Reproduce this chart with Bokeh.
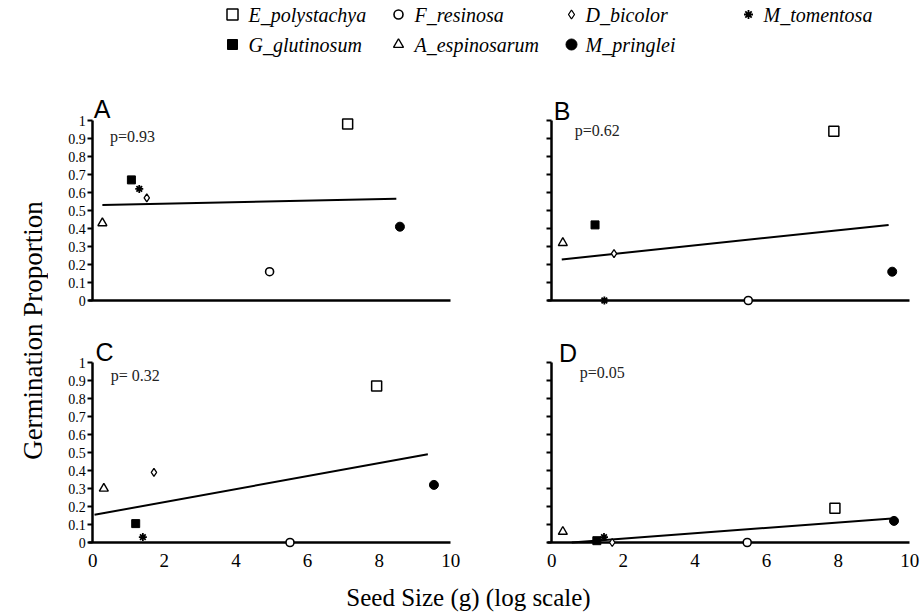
import math
from bokeh.plotting import figure
from bokeh.layouts import row, column
from bokeh.models import Range1d, FixedTicker, CustomJSTickFormatter, Label, ColumnDataSource
from bokeh.core.properties import value
from bokeh.embed import file_html
from bokeh.resources import INLINE

# ---------------- data ----------------
species = ["E_polystachya", "F_resinosa", "D_bicolor", "M_tomentosa",
           "G_glutinosum", "A_espinosarum", "M_pringlei"]

seed_A = [7.12, 4.94, 1.51, 1.30, 1.08, 0.27, 8.58]
germ_A = [0.98, 0.16, 0.57, 0.62, 0.67, 0.43, 0.41]
fit_seed_A = [0.27, 8.48]
fit_germ_A = [0.53, 0.565]

seed_B = [7.88, 5.49, 1.74, 1.47, 1.21, 0.31, 9.51]
germ_B = [0.94, 0.00, 0.26, 0.00, 0.42, 0.32, 0.16]
fit_seed_B = [0.28, 9.41]
fit_germ_B = [0.228, 0.42]

seed_C = [7.93, 5.51, 1.71, 1.40, 1.20, 0.31, 9.53]
germ_C = [0.87, 0.00, 0.39, 0.03, 0.105, 0.30, 0.32]
fit_seed_C = [0.05, 9.36]
fit_germ_C = [0.154, 0.49]

seed_D = [7.91, 5.46, 1.69, 1.46, 1.26, 0.31, 9.56]
germ_D = [0.19, 0.00, 0.00, 0.03, 0.01, 0.06, 0.12]
fit_seed_D = [0.56, 9.50]
fit_germ_D = [0.00, 0.134]

panel_letters = ["A", "B", "C", "D"]
p_values = ["p=0.93", "p=0.62", "p= 0.32", "p=0.05"]
y_ticks = [0, 0.1, 0.2, 0.3, 0.4, 0.5, 0.6, 0.7, 0.8, 0.9, 1]
x_ticks = [0, 2, 4, 6, 8, 10]
x_title = "Seed Size (g) (log scale)"
y_title = "Germination Proportion"

# ---------------- styles ----------------
marker_kind = ["square", "circle", "diamond", "asterisk", "square", "triangle", "circle"]
marker_size = [10, 8, 8, 8, 8, 9, 9]
marker_fill = ["white", "white", "white", "black", "black", "white", "black"]
marker_lw = [1.5, 1.6, 1.3, 1.8, 1.0, 1.4, 1.0]
legend_size = [11, 9, 9, 9, 10, 10, 11]

SERIF = "Liberation Serif"
SANS = "Liberation Sans"

X_LO, X_HI = -0.9, 10.3
FRAME_W = 401          # 35.8 px per unit
Y_HI = 1.2
PX_PER_Y = 180


def panel(seed, germ, fseed, fgerm, letter, ptext, letter_pos, p_pos,
          show_x, show_y, y_lo, mbl, mbr, mbt, mbb):
    frame_h = int(round((Y_HI - y_lo) * PX_PER_Y))
    w = mbl + FRAME_W + mbr
    h = mbt + frame_h + mbb
    p = figure(width=w, height=h, x_range=Range1d(X_LO, X_HI), y_range=Range1d(y_lo, Y_HI),
               output_backend="svg", toolbar_location=None, title=None,
               min_border_left=mbl, min_border_right=mbr,
               min_border_top=mbt, min_border_bottom=mbb)
    p.outline_line_color = None
    p.xgrid.visible = False
    p.ygrid.visible = False
    p.background_fill_color = "white"
    p.border_fill_color = "white"

    xa = p.xaxis[0]
    xa.fixed_location = 0
    xa.bounds = (-0.12, 10)
    xa.ticker = FixedTicker(ticks=x_ticks)
    xa.axis_line_width = 2.5
    xa.axis_line_color = "black"
    xa.major_tick_line_color = None
    xa.minor_tick_line_color = None
    xa.major_label_text_font = SERIF
    xa.major_label_text_font_size = "19px"
    xa.major_label_text_color = "black" if show_x else None
    xa.major_label_standoff = 5

    ya = p.yaxis[0]
    ya.fixed_location = 0
    ya.bounds = (0, 1)
    ya.ticker = FixedTicker(ticks=y_ticks)
    ya.formatter = CustomJSTickFormatter(code="return Number(tick.toFixed(1)).toString();")
    ya.axis_line_width = 2.5
    ya.axis_line_color = "black"
    ya.major_tick_out = 5
    ya.major_tick_in = 0
    ya.major_tick_line_width = 2
    ya.major_tick_line_color = "black"
    ya.minor_tick_line_color = None
    ya.major_label_text_font = SERIF
    ya.major_label_text_font_size = "14px"
    ya.major_label_text_color = "black" if show_y else None
    ya.major_label_standoff = 2

    p.line(fseed, fgerm, line_color="black", line_width=2)

    src = ColumnDataSource(dict(x=seed, y=germ, marker=marker_kind, size=marker_size,
                                fill=marker_fill, lw=marker_lw))
    p.scatter(x="x", y="y", marker="marker", size="size", fill_color="fill",
              line_color="black", line_width="lw", source=src, level="overlay")

    p.add_layout(Label(x=letter_pos[0], y=letter_pos[1], text=letter,
                       text_font=SANS, text_font_size="25px", text_color="black",
                       text_baseline="alphabetic", text_align="left"))
    p.add_layout(Label(x=p_pos[0], y=p_pos[1], text=ptext,
                       text_font=SERIF, text_font_size="16px", text_color="#222222",
                       text_baseline="alphabetic", text_align="left"))
    return p


# columns: left strip 0..48, A/C 48..470, B/D 470..920
# rows: legend 0..78, row1 78..320, row2 320..576, bottom 576..614
pA = panel(seed_A, germ_A, fit_seed_A, fit_germ_A, panel_letters[0], p_values[0],
           (0.03, 1.063), (0.48, 0.91), False, True, -0.05, 12, 9, 6, 11)
pB = panel(seed_B, germ_B, fit_seed_B, fit_germ_B, panel_letters[1], p_values[1],
           (0.06, 1.052), (0.64, 0.944), False, False, -0.05, 49, 0, 6, 11)
pC = panel(seed_C, germ_C, fit_seed_C, fit_germ_C, panel_letters[2], p_values[2],
           (0.08, 1.057), (0.50, 0.928), True, True, -0.15, 12, 9, 6, 7)
pD = panel(seed_D, germ_D, fit_seed_D, fit_germ_D, panel_letters[3], p_values[3],
           (0.20, 1.052), (0.78, 0.944), True, False, -0.15, 49, 0, 6, 7)


def text_fig(w, h):
    f = figure(width=w, height=h, x_range=Range1d(0, w), y_range=Range1d(0, h),
               output_backend="svg", toolbar_location=None, title=None,
               x_axis_type=None, y_axis_type=None,
               min_border_left=0, min_border_right=0, min_border_top=0, min_border_bottom=0)
    f.outline_line_color = None
    f.xgrid.visible = False
    f.ygrid.visible = False
    return f


# legend (top strip, 78 px tall)
leg = text_fig(920, 78)
leg_marker_x = [232, 398, 571, 748, 232, 398, 571]
leg_row_y = [64, 64, 64, 64, 34, 34, 34]
leg_text_x = [248, 414, 585, 763, 248, 414, 585]
leg.scatter(x=leg_marker_x, y=leg_row_y, marker=marker_kind, size=legend_size,
            fill_color=marker_fill, line_color="black", line_width=marker_lw)
leg.text(x=leg_text_x, y=leg_row_y, text=species, text_font=value(SERIF),
         text_font_style="italic", text_font_size="20px", text_color="black",
         text_baseline="middle", text_align="left")

# left title strip
lt = text_fig(48, 498)
lt.text(x=[32], y=[246], text=[y_title], angle=math.pi / 2, text_font=value(SERIF),
        text_font_size="27px", text_color="black", text_align="center",
        text_baseline="alphabetic")

# bottom title strip
bt = text_fig(920, 38)
bt.text(x=[468], y=[17], text=[x_title], text_font=value(SERIF), text_font_size="25px",
        text_color="black", text_align="center", text_baseline="alphabetic")

grid = column(row(pA, pB), row(pC, pD))
layout = column(leg, row(lt, grid), bt)

open("out.html", "w").write(file_html(layout, INLINE))
